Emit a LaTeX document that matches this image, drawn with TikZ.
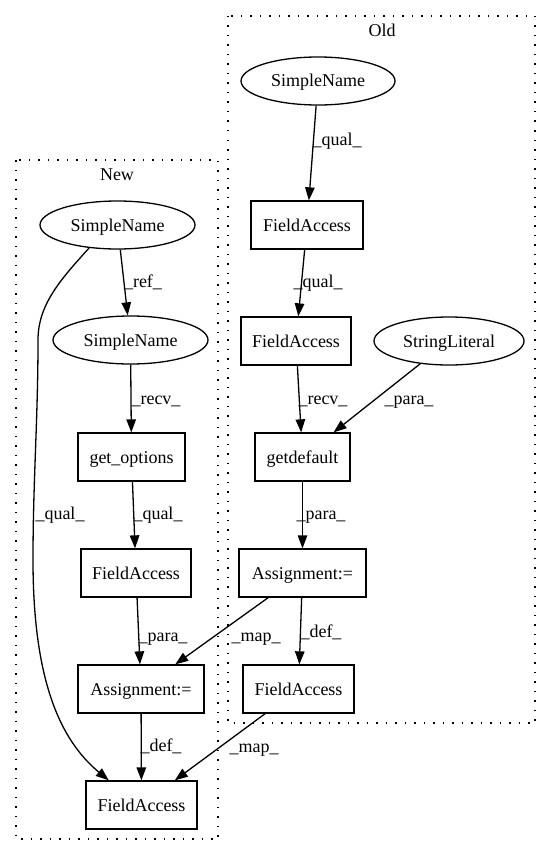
\documentclass[tikz,border=0pt]{standalone}
\usepackage{fontspec}
\setmainfont{Liberation Serif}
\usetikzlibrary{arrows.meta,shapes.geometric}
\begin{document}
\begin{tikzpicture}[x=1pt,y=-1pt,line width=1.3pt,
  txt/.style={font=\fontsize{18}{20}\selectfont, inner sep=0pt, text height=12pt, text depth=0pt},
  box/.style={txt, draw, rectangle, minimum height=48pt},
  ell/.style={txt, draw, ellipse, minimum height=48pt},
  edge/.style={draw, -{Triangle[length=13pt,width=9.5pt]}},
  lbl/.style={txt},
  cluster/.style={draw, line width=1.3pt, dash pattern=on 1.5pt off 8pt}]
\useasboundingbox (0,0) rectangle (551,856);
% clusters
\draw[cluster] (16,160) rectangle (218,839);
\draw[cluster] (228,16) rectangle (535,723);
\node[lbl] (newlbl) at (117,174) {New};
\node[lbl] (oldlbl) at (382,30.5) {Old};
% Old nodes
\node[ell, minimum width=154pt] (osn) at (318,81) {SimpleName};
\node[box, minimum width=112pt] (ofa1) at (307,225) {FieldAccess};
\node[box, minimum width=110pt] (ofa2) at (296,341) {FieldAccess};
\node[ell, minimum width=150pt] (osl) at (449,341) {StringLiteral};
\node[box, minimum width=95pt] (ogd) at (302.5,457) {getdefault};
\node[box, minimum width=127pt] (oas) at (302.5,573) {Assignment:=};
\node[box, minimum width=111pt] (ofa3) at (298.5,689) {FieldAccess};
% New nodes
\node[ell, minimum width=155pt] (nsn1) at (117.5,225) {SimpleName};
\node[ell, minimum width=155pt] (nsn2) at (130.5,340) {SimpleName};
\node[box, minimum width=107pt] (ngo) at (131.5,457) {get\_options};
\node[box, minimum width=110pt] (nfa1) at (136,573) {FieldAccess};
\node[box, minimum width=126pt] (nas) at (141,689) {Assignment:=};
\node[box, minimum width=111pt] (nfa2) at (141.5,805) {FieldAccess};
% Old edges
\draw[edge] (osn) -- (ofa1) node[lbl] at (337,140) {\_qual\_};
\draw[edge] (ofa1) -- (ofa2) node[lbl] at (318,281) {\_qual\_};
\draw[edge] (ofa2) -- (ogd) node[lbl] at (323,398) {\_recv\_};
\draw[edge] (osl) -- (ogd) node[lbl] at (409,398) {\_para\_};
\draw[edge] (ogd) -- (oas) node[lbl] at (321,513) {\_para\_};
\draw[edge] (oas) -- (ofa3) node[lbl] at (321,631) {\_def\_};
% cross edges
\draw[edge] (oas) -- (nas) node[lbl] at (256,635) {\_map\_};
\draw[edge] (ofa3) -- (nfa2) node[lbl] at (254,746) {\_map\_};
% New edges
\draw[edge] (nsn1) -- (nsn2) node[lbl] at (143,281) {\_ref\_};
\draw[edge] (nsn2) -- (ngo) node[lbl] at (156,398) {\_recv\_};
\draw[edge] (ngo) -- (nfa1) node[lbl] at (158,513) {\_qual\_};
\draw[edge] (nfa1) -- (nas) node[lbl] at (163,635) {\_para\_};
\draw[edge] (nas) -- (nfa2) node[lbl] at (161,745) {\_def\_};
\draw[edge] (nsn1.219) .. controls (60,280) and (38,305) .. (38,340)
  .. controls (38,420) and (33,480) .. (33,560)
  .. controls (33,680) and (60,740) .. (nfa2.143);
\node[lbl] (quallbl) at (60,513) {\_qual\_};
\end{tikzpicture}
\end{document}
